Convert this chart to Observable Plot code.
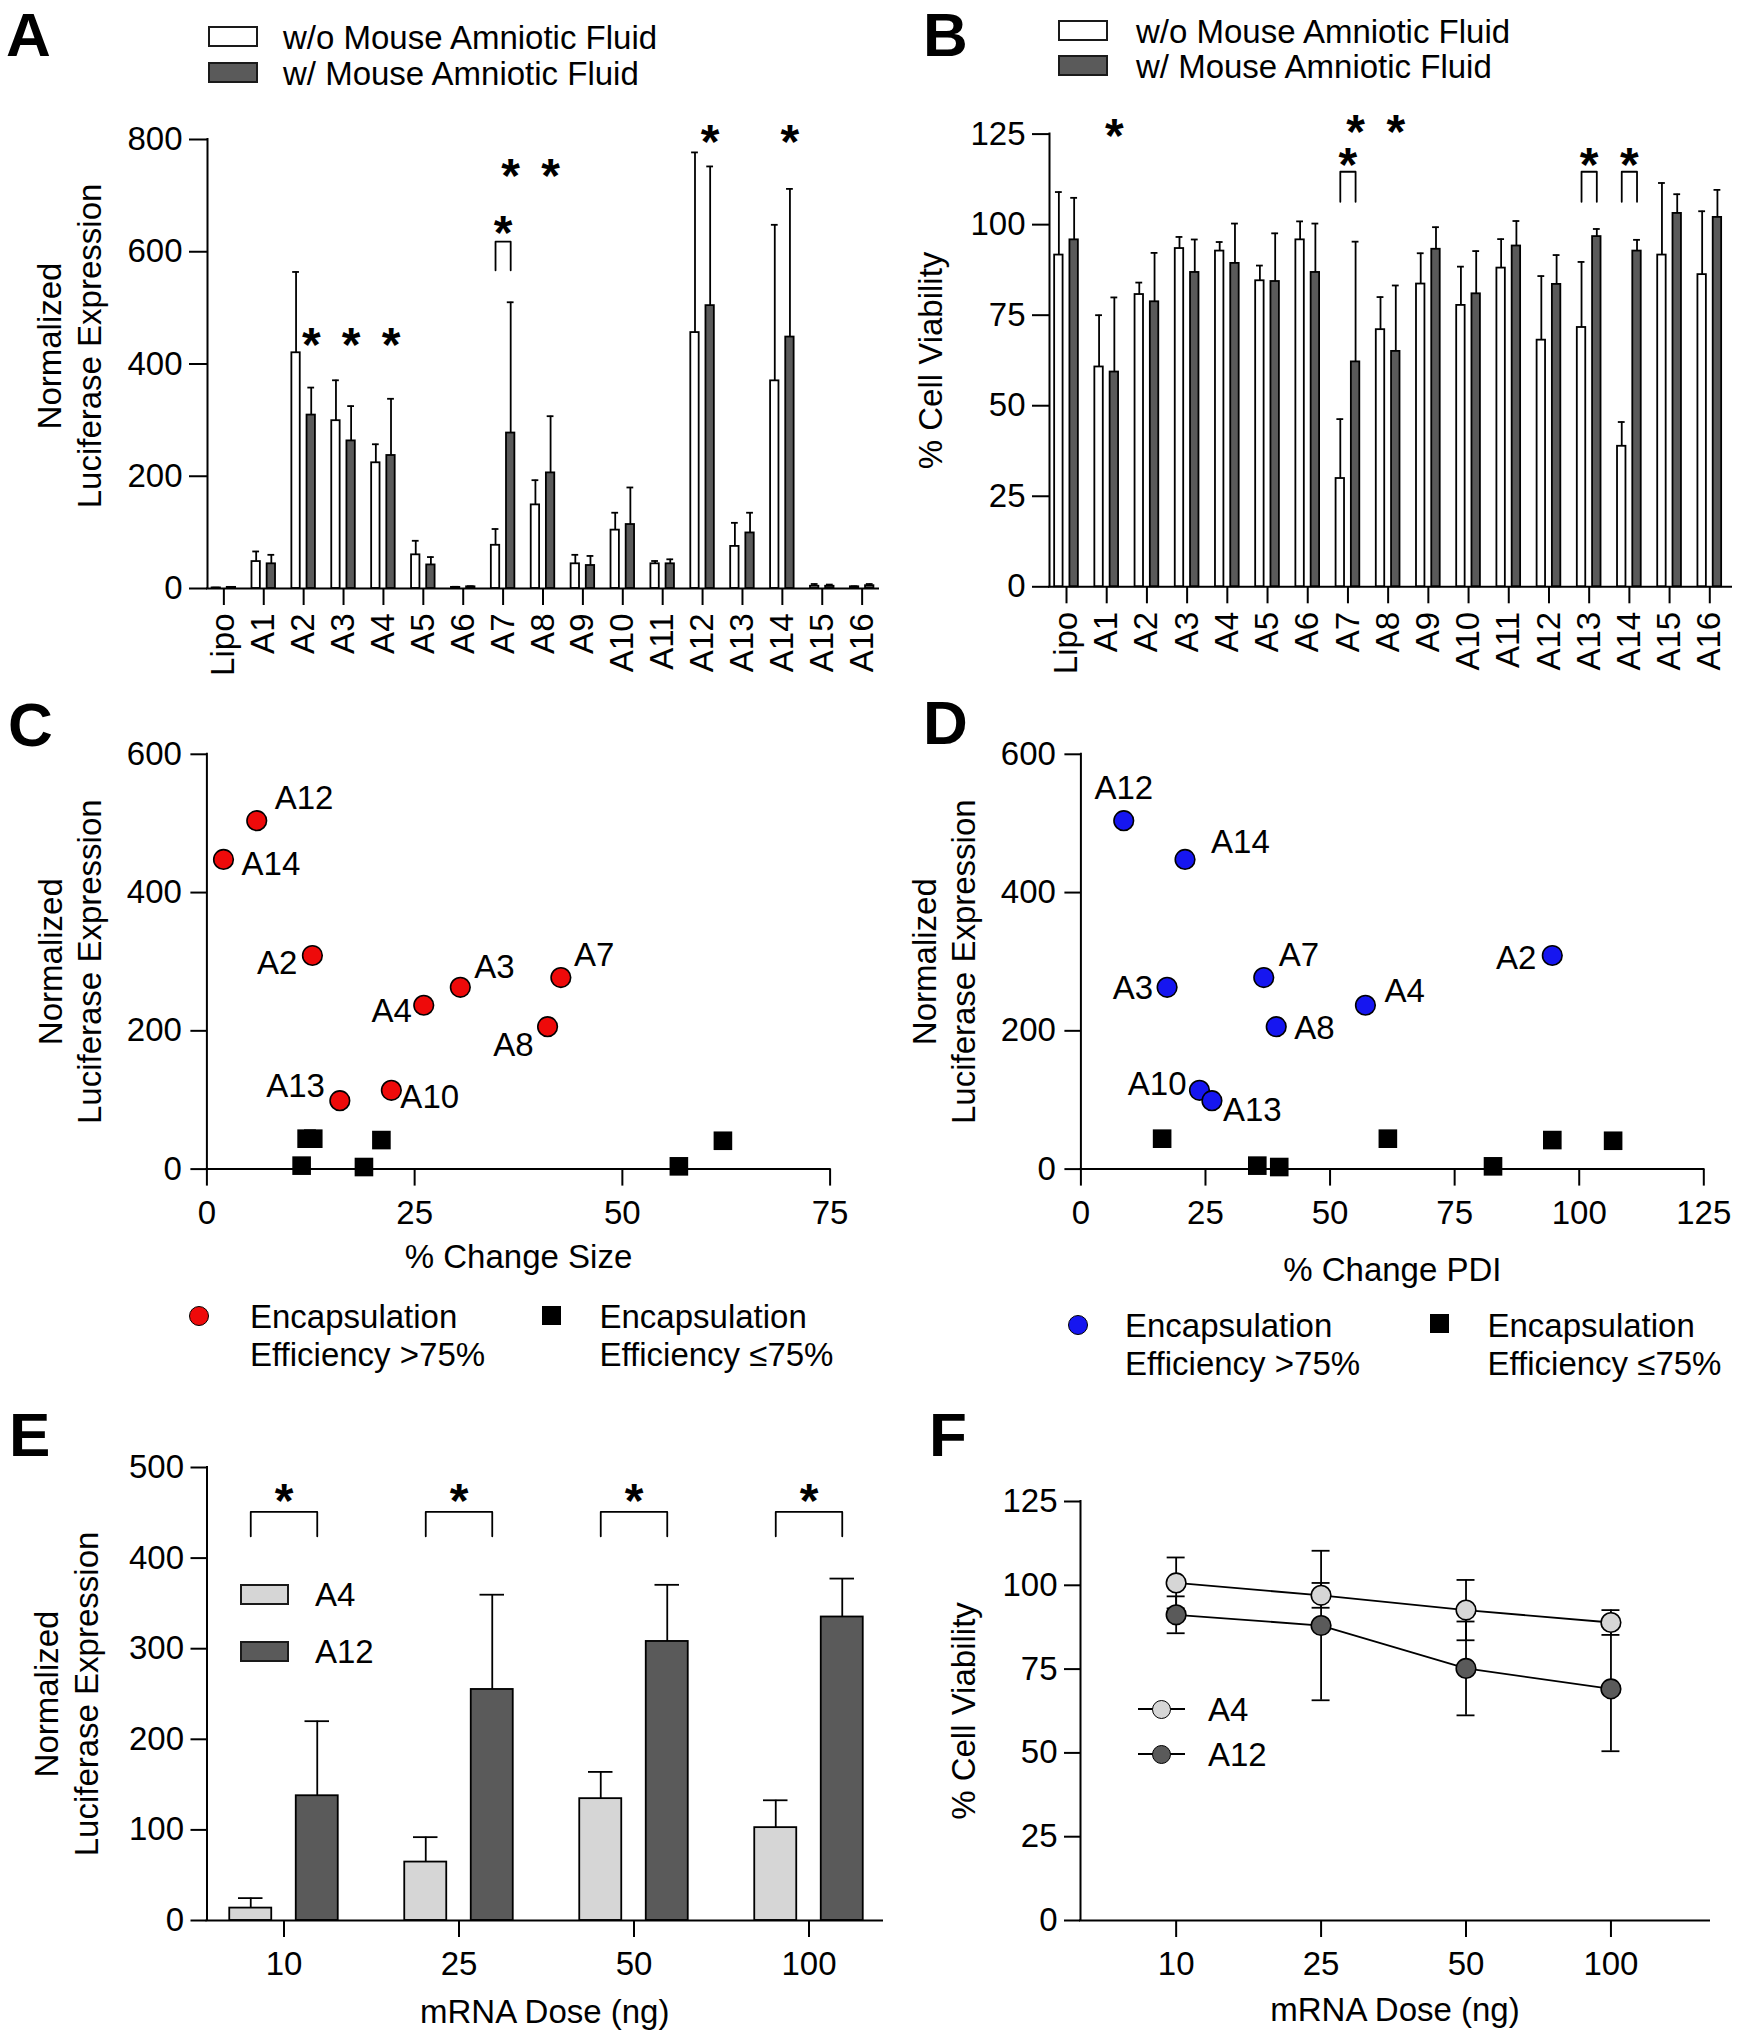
<!DOCTYPE html>
<html><head><meta charset="utf-8">
<script src="https://cdn.jsdelivr.net/npm/d3@7"></script>
<script src="https://cdn.jsdelivr.net/npm/@observablehq/plot@0.6"></script>
<style>
body{margin:0;background:#fff;}
#root{position:relative;width:1738px;height:2040px;overflow:hidden;font-family:'Liberation Sans',Arial,Helvetica,sans-serif;color:#000;background:#fff;}
.abs{position:absolute;white-space:nowrap;}
.t{font-size:33px;line-height:33px;}
.letter{font-size:62px;font-weight:bold;line-height:56px;}
.box{position:absolute;box-sizing:border-box;border:2px solid #1a1a1a;}
</style></head><body><div id="root"></div>
<script>
// ---------------- DATA ----------------
const formulations = ["Lipo","A1","A2","A3","A4","A5","A6","A7","A8","A9","A10","A11","A12","A13","A14","A15","A16"];
// Panel A: normalized luciferase expression (mean, SD)
const lucWithout   = [1, 48, 420, 299, 224, 60, 2, 77, 149, 44, 104, 44, 456, 75, 370, 4, 3];
const lucWithoutSD = [0.5, 18, 144, 72, 33, 25, 1, 29, 44, 16, 31, 5, 321, 42, 278, 4, 1];
const lucWith      = [2, 44, 309, 263, 237, 42, 3, 277, 206, 41, 114, 44, 504, 99, 448, 4, 5];
const lucWithSD    = [0.5, 16, 49, 62, 101, 14, 1, 233, 101, 17, 66, 8, 248, 36, 264, 3, 3];
// Panel B: % cell viability (mean, SD)
const viabWithout   = [91.6, 60.7, 80.7, 93.4, 92.7, 84.5, 95.8, 29.9, 71, 83.6, 77.7, 88, 68.1, 71.6, 38.8, 91.6, 86.2];
const viabWithoutSD = [17.4, 14.3, 3.3, 3.2, 2.5, 4.2, 5.1, 16.4, 9, 8.5, 10.7, 8, 17.7, 18.1, 6.7, 19.9, 17.5];
const viabWith      = [95.8, 59.3, 78.7, 86.8, 89.3, 84.3, 86.8, 62.1, 65, 93.2, 80.9, 94.1, 83.5, 96.7, 92.7, 103.1, 102];
const viabWithSD    = [11.6, 20.6, 13.5, 9.1, 11, 13.3, 13.5, 33.2, 18.2, 6.1, 11.8, 6.9, 8.1, 2.1, 3.1, 5.3, 7.6];
// significance annotations (data units)
const sigLucStars = ["A2","A3","A4","A7","A8","A12","A14"];
const sigLucStarY = [454, 454, 454, 755, 755, 815, 815];
const sigLucBrackets = ["A7"];
const sigLucBracketTop = 618, sigLucBracketLeg = 567, sigLucBracketStar = 653;
const sigViabStars = ["A1","A7","A8"];
const sigViabStarY = [127.6, 128.6, 128.6];
const sigViabBrackets = ["A7","A13","A14"];
const sigViabBracketTop = 114.6, sigViabBracketLeg = 106.3, sigViabBracketStar = 119.6;
// Panels C, D: encapsulation efficiency groups
const highEE = ["A2","A3","A4","A7","A8","A10","A12","A13","A14"];
const highSizeChange = [12.7, 30.5, 26.1, 42.6, 41.0, 22.2, 6.0, 16.0, 2.0];
const highPdiChange  = [94.6, 17.3, 57.1, 36.7, 39.2, 23.8, 8.6, 26.3, 20.9];
const lowEE = ["A1","A5","A6","A9","A11","A15","A16"];
const lowSizeChange = [12.0, 21.0, 18.9, 62.1, 12.8, 56.8, 11.4];
const lowPdiChange  = [16.3, 94.6, 39.8, 106.8, 61.6, 82.7, 35.4];
// Panels E, F: dose response
const doses = ["10","25","50","100"];
const doseLucA4 = [13.7, 64.5, 134.5, 102.5];
const doseLucA4SD = [11, 27.5, 29.5, 30.2];
const doseLucA12 = [137.7, 255, 308, 335];
const doseLucA12SD = [82.3, 104.6, 62.5, 42.4];
const doseSigBracketTop = 451, doseSigBracketLeg = 424, doseSigStar = 476;
const doseViabA4 = [100.7, 97, 92.6, 88.9];
const doseViabA4SD = [7.6, 3.7, 9, 3.7];
const doseViabA12 = [91.2, 88, 75.2, 69.1];
const doseViabA12SD = [5.5, 22.3, 14, 18.6];

// ---------------- STYLE ----------------
const FONT = "'Liberation Sans', Arial, Helvetica, sans-serif";
const FS = 33;
const DARK = "#5a5a5a", LIGHT = "#d6d6d6", RED = "#ee0a0a", BLUE = "#1616f0";
const AX = 2, LW = 1.8;
const root = document.getElementById("root");

function mountPlot(opts, box, fr) {
  const svg = Plot.plot({
    ...opts,
    width: box.width, height: box.height,
    marginLeft: fr.x0 - box.left, marginRight: box.left + box.width - fr.x1,
    marginTop: fr.y0 - box.top, marginBottom: box.top + box.height - fr.y1,
    style: {fontFamily: FONT, fontSize: FS + "px", background: "none", overflow: "visible", color: "black"}
  });
  svg.style.position = "absolute";
  svg.style.left = box.left + "px";
  svg.style.top = box.top + "px";
  svg.style.maxWidth = "none";
  root.appendChild(svg);
}
function html(tag, cls, text, left, top, extra) {
  const el = document.createElement(tag);
  if (cls) el.className = cls;
  if (text != null) el.textContent = text;
  el.style.left = left + "px"; el.style.top = top + "px";
  if (!el.style.position) el.style.position = "absolute";
  Object.assign(el.style, extra || {});
  root.appendChild(el);
  return el;
}
function axesLines(xd, yd) {
  return [
    Plot.ruleY([yd[0]], {x1: xd[0], x2: xd[1], stroke: "black", strokeWidth: AX, strokeLinecap: "square"}),
    Plot.ruleX([xd[0]], {y1: yd[0], y2: yd[1], stroke: "black", strokeWidth: AX, strokeLinecap: "square"})
  ];
}
function stars(xs, ys) {
  return Plot.text(xs, {x: d => d, y: (d, k) => ys[k], text: () => "*", fontSize: 48, fontWeight: "bold", dy: 12, lineAnchor: "middle"});
}
function bracket(centers, top, leg, off) {
  const pts = centers.flatMap((c, k) => [[c - off, leg, k], [c - off, top, k], [c + off, top, k], [c + off, leg, k]]);
  return Plot.line(pts, {x: d => d[0], y: d => d[1], z: d => d[2], stroke: "black", strokeWidth: LW});
}
function groupedBars(n, a, asd, b, bsd, fills, off, hw, cap) {
  const idx = d3.range(n);
  const series = [{v: a, sd: asd, fill: fills[0], o: -off}, {v: b, sd: bsd, fill: fills[1], o: off}];
  const marks = [];
  for (const s of series) {
    marks.push(Plot.ruleX(idx, {x: i => i + s.o, y1: i => s.v[i], y2: i => s.v[i] + s.sd[i], stroke: "black", strokeWidth: LW}));
    marks.push(Plot.ruleY(idx, {y: i => s.v[i] + s.sd[i], x1: i => i + s.o - cap, x2: i => i + s.o + cap, stroke: "black", strokeWidth: LW}));
    marks.push(Plot.rect(idx, {x1: i => i + s.o - hw, x2: i => i + s.o + hw, y1: 0, y2: i => s.v[i], fill: s.fill, stroke: "black", strokeWidth: LW}));
  }
  return marks;
}
const yTitle = (txt, dx, dy = 0) => Plot.text([txt], {text: d => d, frameAnchor: "left", rotate: -90, dx, dy, lineHeight: 1.2, fontSize: FS, lineAnchor: "middle", textAnchor: "middle"});
const xTitle = (txt, dy) => Plot.text([txt], {text: d => d, frameAnchor: "bottom", dy, fontSize: FS, lineAnchor: "middle"});
const fIdx = n => formulations.indexOf(n);

// ---------------- PANEL A ----------------
{
  const box = {left: 0, top: 95, width: 890, height: 595};
  const fr = {x0: 207, x1: 878, y0: 139, y1: 588};
  const xd = [-0.41, 16.41], yd = [0, 800], OFF = 0.19;
  mountPlot({
    x: {domain: xd}, y: {domain: yd},
    marks: [
      ...groupedBars(formulations.length, lucWithout, lucWithoutSD, lucWith, lucWithSD, ["white", DARK], OFF, 0.105, 0.085),
      ...axesLines(xd, yd),
      Plot.axisY({ticks: [0, 200, 400, 600, 800], tickSize: 18, tickPadding: 7, label: null, strokeWidth: AX}),
      Plot.axisX({ticks: d3.range(formulations.length), tickFormat: i => formulations[i], tickSize: 17, tickPadding: 8, tickRotate: -90, label: null, strokeWidth: AX}),
      stars(sigLucStars.map(n => fIdx(n) + OFF), sigLucStarY),
      bracket(sigLucBrackets.map(fIdx), sigLucBracketTop, sigLucBracketLeg, OFF),
      stars(sigLucBrackets.map(fIdx), sigLucBrackets.map(() => sigLucBracketStar)),
      yTitle("Normalized\nLuciferase Expression", -139, -18)
    ]
  }, box, fr);
}
// ---------------- PANEL B ----------------
{
  const box = {left: 880, top: 90, width: 858, height: 600};
  const fr = {x0: 1049, x1: 1731, y0: 133.6, y1: 586.3};
  const xd = [-0.423, 16.54], yd = [0, 125], OFF = 0.19;
  mountPlot({
    x: {domain: xd}, y: {domain: yd},
    marks: [
      ...groupedBars(formulations.length, viabWithout, viabWithoutSD, viabWith, viabWithSD, ["white", DARK], OFF, 0.105, 0.085),
      ...axesLines(xd, yd),
      Plot.axisY({ticks: [0, 25, 50, 75, 100, 125], tickSize: 17, tickPadding: 7, label: null, strokeWidth: AX}),
      Plot.axisX({ticks: d3.range(formulations.length), tickFormat: i => formulations[i], tickSize: 17, tickPadding: 8, tickRotate: -90, label: null, strokeWidth: AX}),
      stars(sigViabStars.map(n => fIdx(n) + OFF), sigViabStarY),
      bracket(sigViabBrackets.map(fIdx), sigViabBracketTop, sigViabBracketLeg, OFF),
      stars(sigViabBrackets.map(fIdx), sigViabBrackets.map(() => sigViabBracketStar)),
      yTitle("% Cell Viability", -120)
    ]
  }, box, fr);
}
// ---------------- PANELS C & D ----------------
function scatterPanel(box, fr, xd, xTicks, highX, lowX, fillColor, labelPlace, xLabel, xLabelDy, yDx) {
  const yd = [0, 600];
  const labels = highEE.map((n, k) => {
    const p = labelPlace[n];
    return Plot.text([n], {x: () => highX[k], y: () => lucWith[fIdx(n)], text: d => d, dx: p[0], dy: p[1], textAnchor: p[2], lineAnchor: "middle", fontSize: FS});
  });
  mountPlot({
    x: {domain: xd}, y: {domain: yd},
    marks: [
      ...axesLines(xd, yd),
      Plot.axisY({ticks: [0, 200, 400, 600], tickSize: 16, tickPadding: 9, label: null, strokeWidth: AX}),
      Plot.axisX({ticks: xTicks, tickSize: 17, tickPadding: 14, label: null, strokeWidth: AX}),
      Plot.dot(lowEE, {x: (n, k) => lowX[k], y: n => lucWith[fIdx(n)], symbol: "square", r: 10.5, fill: "black"}),
      Plot.dot(highEE, {x: (n, k) => highX[k], y: n => lucWith[fIdx(n)], r: 9.8, fill: fillColor, stroke: "black", strokeWidth: 1.6}),
      ...labels,
      yTitle("Normalized\nLuciferase Expression", yDx),
      xTitle(xLabel, xLabelDy)
    ]
  }, box, fr);
}
scatterPanel({left: 0, top: 700, width: 870, height: 580}, {x0: 206.4, x1: 829.6, y0: 753.8, y1: 1168.6},
  [0, 75], [0, 25, 50, 75], highSizeChange, lowSizeChange, RED,
  {A12: [18, -22, "start"], A14: [18, 5, "start"], A2: [-15, 8, "end"], A3: [14, -20, "start"], A7: [13, -22, "start"],
   A4: [-12, 6, "end"], A8: [-14, 19, "end"], A13: [-15, -14, "end"], A10: [9, 7, "start"]},
  "% Change Size", 88, -138);
scatterPanel({left: 870, top: 700, width: 868, height: 590}, {x0: 1080.4, x1: 1703.3, y0: 753.8, y1: 1168.6},
  [0, 125], [0, 25, 50, 75, 100, 125], highPdiChange, lowPdiChange, BLUE,
  {A12: [0, -32, "middle"], A14: [26, -17, "start"], A3: [-14, 1, "end"], A7: [15, -22, "start"], A8: [18, 2, "start"],
   A4: [19, -14, "start"], A2: [-16, 3, "end"], A10: [-13, -6, "end"], A13: [11, 10, "start"]},
  "% Change PDI", 101, -138);
// ---------------- PANEL E ----------------
{
  const box = {left: 0, top: 1400, width: 890, height: 640};
  const fr = {x0: 206.5, x1: 882, y0: 1467, y1: 1920};
  const xd = [-0.44, 3.42], yd = [0, 500], OFF = 0.19;
  mountPlot({
    x: {domain: xd}, y: {domain: yd},
    marks: [
      ...groupedBars(doses.length, doseLucA4, doseLucA4SD, doseLucA12, doseLucA12SD, [LIGHT, DARK], OFF, 0.12, 0.07),
      ...axesLines(xd, yd),
      Plot.axisY({ticks: [0, 100, 200, 300, 400, 500], tickSize: 16, tickPadding: 7, label: null, strokeWidth: AX}),
      Plot.axisX({ticks: d3.range(doses.length), tickFormat: i => doses[i], tickSize: 17, tickPadding: 14, label: null, strokeWidth: AX}),
      bracket(d3.range(doses.length), doseSigBracketTop, doseSigBracketLeg, OFF),
      stars(d3.range(doses.length), doses.map(() => doseSigStar)),
      yTitle("Normalized\nLuciferase Expression", -141.5),
      xTitle("mRNA Dose (ng)", 92)
    ]
  }, box, fr);
}
// ---------------- PANEL F ----------------
{
  const box = {left: 870, top: 1400, width: 868, height: 640};
  const fr = {x0: 1080, x1: 1709, y0: 1501, y1: 1920};
  const xd = [-0.66, 3.68], yd = [0, 125], CAP = 0.062;
  const idx = d3.range(doses.length);
  const series = [{m: doseViabA4, sd: doseViabA4SD, fill: LIGHT}, {m: doseViabA12, sd: doseViabA12SD, fill: DARK}];
  const err = series.flatMap(s => [
    Plot.ruleX(idx, {x: i => i, y1: i => s.m[i] - s.sd[i], y2: i => s.m[i] + s.sd[i], stroke: "black", strokeWidth: LW}),
    Plot.ruleY(idx, {y: i => s.m[i] + s.sd[i], x1: i => i - CAP, x2: i => i + CAP, stroke: "black", strokeWidth: LW}),
    Plot.ruleY(idx, {y: i => s.m[i] - s.sd[i], x1: i => i - CAP, x2: i => i + CAP, stroke: "black", strokeWidth: LW})
  ]);
  const lines = series.map(s => Plot.line(idx, {x: i => i, y: i => s.m[i], stroke: "black", strokeWidth: LW}));
  const dots = series.map(s => Plot.dot(idx, {x: i => i, y: i => s.m[i], r: 9.8, fill: s.fill, stroke: "black", strokeWidth: 1.6}));
  mountPlot({
    x: {domain: xd}, y: {domain: yd},
    marks: [
      ...axesLines(xd, yd),
      Plot.axisY({ticks: [0, 25, 50, 75, 100, 125], tickSize: 16, tickPadding: 7, label: null, strokeWidth: AX}),
      Plot.axisX({ticks: idx, tickFormat: i => doses[i], tickSize: 17, tickPadding: 14, label: null, strokeWidth: AX}),
      ...err, ...lines, ...dots,
      yTitle("% Cell Viability", -118),
      xTitle("mRNA Dose (ng)", 90)
    ]
  }, box, fr);
}

// ---------------- LETTERS & LEGENDS ----------------
[["A", 6, 7], ["B", 923, 7], ["C", 8, 696.5], ["D", 923, 694.5], ["E", 9, 1406.5], ["F", 929, 1406.5]]
  .forEach(([t, l, tp]) => html("div", "abs letter", t, l, tp));

// A & B legends
function barLegend(bx, by1, by2, tx, ty1, ty2) {
  html("div", "box", null, bx, by1, {width: "50px", height: "21px", background: "white"});
  html("div", "box", null, bx, by2, {width: "50px", height: "21px", background: DARK});
  html("div", "abs t", "w/o Mouse Amniotic Fluid", tx, ty1);
  html("div", "abs t", "w/ Mouse Amniotic Fluid", tx, ty2);
}
barLegend(208, 26, 62, 283, 21, 57);
barLegend(1058, 19.5, 54.5, 1136, 14.5, 49.5);

// C & D legends
function eeLegend(cx, cy, fill, tx, sqx, sqy, tx2, t1, t2) {
  html("div", null, null, cx - 10, cy - 10, {width: "20px", height: "20px", boxSizing: "border-box", border: "1.5px solid black", borderRadius: "50%", background: fill});
  html("div", "abs t", "Encapsulation", tx, t1);
  html("div", "abs t", "Efficiency >75%", tx, t2);
  html("div", null, null, sqx - 9.5, sqy - 9.5, {width: "19px", height: "19px", background: "black"});
  html("div", "abs t", "Encapsulation", tx2, t1);
  html("div", "abs t", "Efficiency \u226475%", tx2, t2);
}
eeLegend(199, 1316, RED, 250, 551, 1315, 599.5, 1300, 1338);
eeLegend(1078, 1325, BLUE, 1125, 1439, 1323, 1487.5, 1309, 1347);

// E legend
html("div", "box", null, 239.6, 1583.6, {width: "49.4px", height: "21px", background: LIGHT});
html("div", "box", null, 239.6, 1640.8, {width: "49.4px", height: "21px", background: DARK});
html("div", "abs t", "A4", 315, 1578);
html("div", "abs t", "A12", 315, 1635);

// F legend
[[1709, LIGHT, "A4"], [1754, DARK, "A12"]].forEach(([cy, fill, txt]) => {
  html("div", null, null, 1138, cy - 1, {width: "47px", height: "2px", background: "black"});
  html("div", null, null, 1151.5, cy - 9.5, {width: "19px", height: "19px", boxSizing: "border-box", border: "1.5px solid black", borderRadius: "50%", background: fill});
  html("div", "abs t", txt, 1208, cy - 16);
});
</script></body></html>
